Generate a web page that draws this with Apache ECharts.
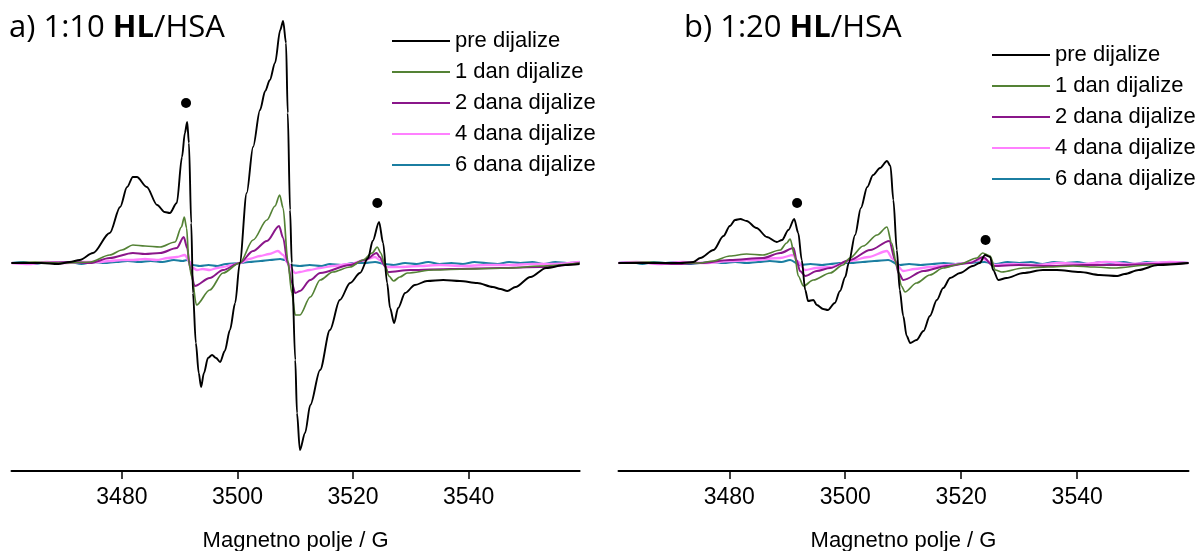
<!DOCTYPE html>
<html>
<head>
<meta charset="utf-8">
<script src="https://cdn.jsdelivr.net/npm/echarts@6/dist/echarts.min.js"></script>
<style>html,body{margin:0;padding:0;background:#fff}#c{width:1198px;height:551px}</style>
</head>
<body>
<div id="c"></div>
<script>
// x: magnetic field (G); y: relative EPR signal (arbitrary units, baseline = 0)
const xTicks = [3480, 3500, 3520, 3540];
const seriesNames = ['pre dijalize', '1 dan dijalize', '2 dana dijalize', '4 dana dijalize', '6 dana dijalize'];

// Panel a) 1:10 HL/HSA
const aPre = [[3460.9,0],[3466,0],[3469,-1],[3471,1],[3472.7,3],[3475,10],[3477.9,30],[3479.7,56],[3480.9,76],[3481.9,86],[3482.6,86],[3484.3,76],[3486.1,58],[3487.4,51],[3488.3,50],[3489.5,60],[3490.4,106],[3490.9,130],[3491.3,141],[3491.6,120],[3492.0,40],[3492.3,-30],[3492.8,-80],[3493.3,-110],[3493.7,-124],[3494.2,-110],[3494.9,-95],[3495.6,-92],[3496.3,-95],[3497.0,-99],[3497.8,-88],[3498.7,-67],[3499.6,-40],[3500.4,0],[3501.6,70],[3502.7,116],[3503.9,153],[3504.8,172],[3505.6,183],[3506.5,200],[3507.4,233],[3507.9,242],[3508.4,220],[3508.7,150],[3509.1,53],[3509.4,0],[3510.0,-97],[3510.3,-150],[3510.8,-187],[3511.7,-170],[3512.6,-142],[3514.3,-107],[3516.0,-67],[3517.7,-37],[3519.5,-20],[3521.2,-10],[3522.6,5],[3523.4,22],[3524.5,41],[3525.2,20],[3525.9,-20],[3526.4,-45],[3527.1,-60],[3527.8,-45],[3529.0,-30],[3530.7,-22],[3532.8,-18],[3535.6,-17],[3538.5,-18],[3541.5,-20],[3544.2,-24],[3545.5,-26],[3546.7,-28],[3548.1,-24],[3550.7,-14],[3553.4,-5],[3556.7,-2],[3559.2,-1]];
const a1 = [[3460.9,0],[3465,1],[3470,0],[3474.5,1],[3477.9,8],[3480,13],[3481.9,18],[3484,17],[3486.6,16],[3489.2,21],[3490.3,36],[3490.8,46],[3491.2,35],[3491.6,0],[3492.1,-14],[3492.9,-42],[3495.2,-27],[3497.5,-10],[3500.4,0],[3502.7,23],[3505.1,43],[3506.5,57],[3507.3,68],[3507.9,55],[3508.7,3],[3509.4,-30],[3510.0,-52],[3510.8,-52],[3512.6,-34],[3514.3,-17],[3516.5,-9],[3519.5,-4],[3521.7,3],[3523.3,10],[3524.2,16],[3524.8,10],[3525.5,-2],[3526.2,-13],[3527.0,-18],[3528.1,-14],[3529.4,-10],[3533.9,-7],[3539.7,-6],[3547.2,-5],[3552.4,-3],[3559.2,0]];
const a2 = [[3460.9,0],[3466,0],[3471,1],[3474.5,0],[3477.9,5],[3481.9,10],[3484,9],[3486.6,10],[3489.5,15],[3490.7,26],[3491.3,15],[3491.8,-5],[3492.6,-23],[3495.2,-15],[3497.5,-7],[3500.4,0],[3502.7,12],[3505.1,22],[3507.2,37],[3507.9,25],[3508.7,0],[3509.4,-20],[3510.0,-30],[3510.8,-28],[3512.6,-17],[3514.3,-10],[3519.5,-2],[3522.1,3],[3524.1,10],[3524.6,6],[3525.5,-3],[3526.0,-9],[3529.9,-7],[3537,-6],[3545.5,-5],[3552.4,-4],[3559.2,0]];
const a4 = [[3460.9,0],[3464,-1],[3467,1],[3470,0],[3473,1],[3476,1],[3477.9,2],[3480,3],[3482,3],[3484,4],[3486,3],[3488,5],[3489.5,6],[3490.9,8],[3491.6,2],[3492.3,-5],[3493,-7],[3494,-6],[3495.2,-7],[3496.5,-5],[3497.5,-4],[3499,-2],[3500.4,0],[3502,4],[3503.9,7],[3505.5,9],[3507,12],[3507.9,8],[3508.7,0],[3510,-10],[3510.8,-9],[3512.5,-7],[3514.3,-5],[3516.5,-3],[3519.5,-1],[3522,3],[3523.8,6],[3524.6,3],[3525.8,-4],[3528,-4],[3531.6,-3],[3535,-2],[3539,-3],[3543,-2],[3547,-2],[3551,-1],[3555,-1],[3559.2,1]];
const a6 = [[3460.9,0],[3463,1],[3465,-1],[3467,1],[3469,0],[3471,1],[3473,-1],[3475,1],[3477,0],[3479,1],[3481,2],[3483,1],[3485,2],[3487,1],[3489,3],[3490.5,2],[3491.3,3],[3492.3,-2],[3493.5,-3],[3495,-2],[3496.5,-3],[3498,-1],[3500.4,0],[3502,1],[3504,2],[3505.6,3],[3507.4,4],[3508.2,3],[3509.1,-2],[3510.8,-3],[3512.5,-2],[3514.5,-3],[3516,-1],[3518,-2],[3520,0],[3522,0],[3523.8,1],[3525.5,-1],[3527,-2],[3529,0],[3531,-1],[3533,1],[3535,-1],[3537,0],[3539,-1],[3541,1],[3543,0],[3545,-1],[3547,1],[3549,0],[3551,1],[3553,-1],[3555,1],[3557,0],[3559.2,1]];
const dotsA = [[3491.1,160],[3524.2,60]];

// Panel b) 1:20 HL/HSA
const bPre = [[3460.9,0],[3466,0],[3471.5,0],[3473.8,1],[3475.0,5],[3477.3,13],[3479.0,27],[3480.1,37],[3481.0,43],[3481.9,44],[3483.0,42],[3484.7,35],[3486.5,26],[3488.2,21],[3489.1,23],[3490.2,33],[3491.2,44],[3491.9,30],[3492.5,3],[3493.1,-27],[3493.6,-38],[3494.5,-37],[3495.1,-42],[3496.2,-46],[3497.0,-47],[3498.2,-40],[3499.1,-28],[3500.0,-14],[3500.6,0],[3501.7,28],[3502.7,55],[3503.8,76],[3504.8,88],[3506.0,95],[3507.2,102],[3507.8,97],[3508.3,63],[3508.9,13],[3509.4,-27],[3510.0,-53],[3510.6,-73],[3511.2,-80],[3512.3,-77],[3513.5,-68],[3514.6,-53],[3515.8,-37],[3516.9,-25],[3518.1,-15],[3519.8,-10],[3522.0,-3],[3523.2,0],[3524.1,8],[3525.0,6],[3525.5,-7],[3526.4,-17],[3527.8,-15],[3530.7,-10],[3534.1,-7],[3536.5,-7],[3540.5,-9],[3543.9,-12],[3546.9,-13],[3548.2,-11],[3550.6,-7],[3553.9,-2],[3559.2,0]];
const b1 = [[3460.9,0],[3466,1],[3470,0],[3475.0,0],[3477.2,2],[3480.1,7],[3483.0,9],[3485.8,8],[3488.8,13],[3489.9,20],[3490.5,24],[3491.3,7],[3491.9,-13],[3492.8,-23],[3494.5,-17],[3497.4,-10],[3499.6,-2],[3500.8,5],[3503.1,17],[3505.5,28],[3507.2,36],[3508.0,20],[3508.9,-3],[3509.7,-23],[3510.3,-29],[3512.3,-20],[3514.6,-12],[3516.9,-5],[3519.8,-1],[3522.7,5],[3523.7,10],[3525.0,7],[3525.9,-7],[3527.0,-9],[3530.7,-5],[3535,-4],[3539.3,-3],[3543,-4],[3546.2,-5],[3552.6,-2],[3559.2,0]];
const b2 = [[3460.9,0],[3466,0],[3471,-1],[3475,0],[3480.1,3],[3485.8,5],[3488.8,10],[3491.1,15],[3491.6,3],[3492.2,-8],[3493.1,-13],[3495.1,-8],[3497.4,-5],[3500.8,3],[3504.3,13],[3507.6,22],[3508.6,3],[3509.2,-10],[3510.0,-17],[3513.5,-8],[3517.5,-3],[3521.5,0],[3523.8,6],[3525.5,-3],[3530,-2],[3535.3,-3],[3541,-2],[3547.3,-2],[3553,-1],[3559.2,0]];
const b4 = [[3460.9,0],[3464,1],[3468,-1],[3472,1],[3476,0],[3480.1,2],[3484,3],[3488.8,5],[3491.0,8],[3491.7,2],[3493.1,-7],[3495,-5],[3497.4,-4],[3500.8,2],[3504,6],[3507.2,12],[3508.2,4],[3510.0,-8],[3512,-6],[3514.6,-4],[3518,-2],[3521,0],[3523.8,4],[3525.9,-2],[3529,-1],[3533,-2],[3537,0],[3541,-1],[3545,1],[3549,-1],[3553,0],[3556,1],[3559.2,0]];
const b6 = [[3460.9,0],[3463,1],[3465,-1],[3467,1],[3469,0],[3471,1],[3473,-1],[3475,0],[3477,1],[3479,0],[3481,1],[3483,0],[3485,1],[3487,2],[3489,1],[3490.5,3],[3492.2,-2],[3494,-1],[3496,-2],[3497.4,-1],[3499,0],[3501,0],[3503,1],[3505,2],[3507.4,3],[3509.4,-2],[3511,-1],[3513,-2],[3515,-1],[3517,0],[3519,-1],[3521,0],[3524,1],[3526,-1],[3528,1],[3530,0],[3532,1],[3534,-1],[3536,1],[3538,0],[3540,1],[3542,-1],[3544,1],[3546,0],[3548,1],[3550,-1],[3552,1],[3554,0],[3556,1],[3559.2,0]];
const dotsB = [[3491.7,60],[3524.2,23]];

const colors = ['#000000', '#548235', '#8a168a', '#ff80ff', '#1b7ea1'];
const widths = [1.9, 1.7, 2.0, 2.3, 2.1];

const chart = echarts.init(document.getElementById('c'), null, {renderer: 'canvas'});

function xAxis(gi) {
  return {
    type: 'value', gridIndex: gi, min: 3460.9, max: 3559.2,
    name: 'Magnetno polje / G', nameLocation: 'middle', nameGap: 59,
    nameTextStyle: {fontFamily: 'Liberation Sans, Arial', fontSize: 22, color: '#000'},
    axisLine: {show: true, onZero: false, lineStyle: {color: '#000', width: 2}},
    axisTick: {show: true, length: 8, lineStyle: {color: '#000', width: 1.5}, customValues: xTicks},
    axisLabel: {fontFamily: 'Liberation Sans, Arial', fontSize: 23, color: '#000', margin: 15,
      customValues: xTicks, formatter: v => String(Math.round(v))},
    splitLine: {show: false}
  };
}
function yAxis(gi) {
  return {type: 'value', gridIndex: gi, min: -208, max: 253, show: false, splitLine: {show: false}};
}
function lines(gi, arrs) {
  return arrs.map((d, i) => ({
    name: seriesNames[i], type: 'line', xAxisIndex: gi, yAxisIndex: gi, data: d,
    symbol: 'none', smooth: 0.3, smoothMonotone: 'x', z: 10 - i,
    lineStyle: {color: colors[i], width: widths[i]}, itemStyle: {color: colors[i]},
    animation: false
  }));
}
function dots(gi, d) {
  return {type: 'scatter', xAxisIndex: gi, yAxisIndex: gi, data: d, symbol: 'circle', symbolSize: 10,
    itemStyle: {color: '#000', opacity: 1}, animation: false, z: 20};
}
function legend(left, top) {
  return {
    data: seriesNames.map(n => ({name: n, icon: 'rect'})), orient: 'vertical', left: left, top: top, padding: 0,
    itemWidth: 58, itemHeight: 2, itemGap: 9, selectedMode: false,
    textStyle: {fontFamily: 'Liberation Sans, Arial', fontSize: 22, color: '#000', lineHeight: 22}
  };
}
function title(text, left) {
  return {
    text: text, left: left, top: 13, padding: 0,
    textStyle: {
      fontFamily: 'Open Sans', fontSize: 31, fontWeight: 'normal', color: '#000',
      rich: {b: {fontFamily: 'Open Sans', fontSize: 31, fontWeight: 'bold', color: '#000'}}
    }
  };
}

chart.setOption({
  animation: false,
  backgroundColor: '#fff',
  title: [title('a) 1:10 {b|HL}/HSA', 9), title('b) 1:20 {b|HL}/HSA', 684)],
  legend: [legend(392, 30), legend(992, 44)],
  grid: [
    {left: 11.5, right: 618.4, top: 10, bottom: 80, containLabel: false, outerBoundsMode: 'none'},
    {left: 618.5, right: 9.5, top: 10, bottom: 80, containLabel: false, outerBoundsMode: 'none'}
  ],
  xAxis: [xAxis(0), xAxis(1)],
  yAxis: [yAxis(0), yAxis(1)],
  series: [].concat(
    lines(0, [aPre, a1, a2, a4, a6]),
    [dots(0, dotsA)],
    lines(1, [bPre, b1, b2, b4, b6]),
    [dots(1, dotsB)]
  )
});
</script>
</body>
</html>
